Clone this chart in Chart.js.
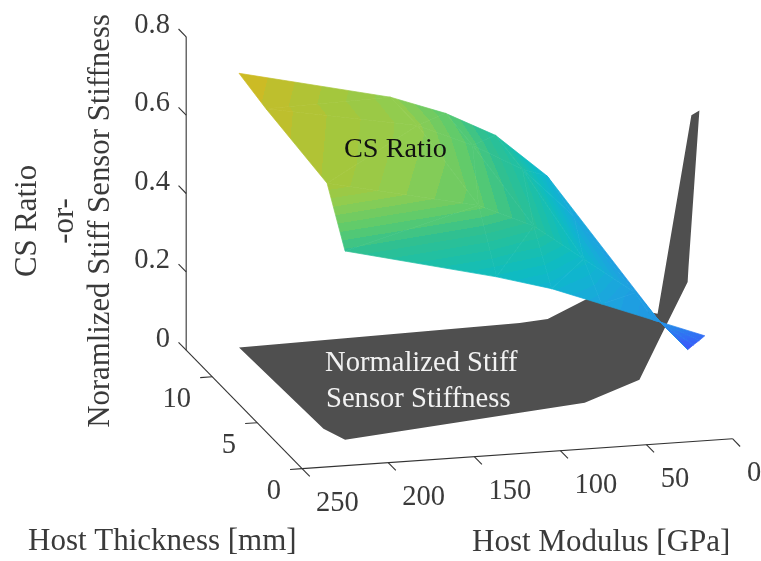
<!DOCTYPE html>
<html>
<head>
<meta charset="utf-8">
<title>CS Ratio surface</title>
<script src="https://cdn.jsdelivr.net/npm/chart.js@4/dist/chart.umd.min.js"></script>
<style>
    html, body { margin: 0; padding: 0; background: #fff; }
    #wrap { width: 761px; height: 561px; }
</style>
</head>
<body>
<div id="wrap"><canvas id="chart" width="761" height="561"></canvas></div>
<script>
// axis ticks
const zTicks = [0, 0.2, 0.4, 0.6, 0.8];
const thicknessTicks = [0, 5, 10];
const modulusTicks = [0, 50, 100, 150, 200, 250];
const modulusEnd = 250;
const thicknessEnd = 12.9;
const zEnd = 0.8;

// CS Ratio surface, rows run back to front, columns high to low modulus
const csModulus = [
    [224, 136, 104, 75, 45, 38, 2],
    [224, 136, 104, 75, 45, 38, 2],
    [224, 136, 104, 75, 45, 38, 2],
    [224, 136, 104, 75, 45, 38, 2]
];
const csThickness = [
    [12, 12, 12, 12, 12, 0.8, 4.6],
    [9, 9, 9, 9, 9, 0.8, 3.97],
    [2.2, 2.2, 2.2, 2.2, 2.2, 0.8, 3.33],
    [0.2, 0.2, 0.2, 0.2, 0.2, 0.8, 2.7]
];
const csRatio = [
    [0.72, 0.632, 0.581, 0.516, 0.403, 0.291, 0.12],
    [0.70, 0.63, 0.57, 0.50, 0.37, 0.291, 0.147],
    [0.669, 0.585, 0.523, 0.43, 0.335, 0.291, 0.173],
    [0.543, 0.45, 0.41, 0.362, 0.312, 0.291, 0.2]
];

// Normalized stiff sensor stiffness, outline of the dark sheet
const stiffModulus = [224, 61, 44.7, 22, 19.5, 3, 2, 24.5, 25, 40, 53, 84.8, 122.5, 224, 224];
const stiffThickness = [12, 12, 12, 12, 4.6, 4, 3.3, 0.2, 0.2, 0.2, 0.2, 0.2, 0.2, 0.2, 2.6];
const stiffValue = [0.02, 0.033, 0.038, 0.082, 0.217, 0.733, 0.761, 0.441, 0.403, 0.275, 0.162, 0.113, 0.099, 0.061, 0.033];

// colour scale, read against the picture
const mapStops = [0, 0.1, 0.2, 0.29, 0.36, 0.41, 0.45, 0.5, 0.54, 0.58, 0.63, 0.67, 0.72, 0.8, 1];
const mapColors = [[62,38,168],[64,80,250],[50,110,245],[35,145,230],[28,165,222],[16,180,208],[15,188,192],[30,192,165],[48,192,145],[92,203,110],[144,204,80],[168,198,58],[212,184,32],[251,190,62],[249,251,21]];
const mapLevels = 64;

const FONT = '"Liberation Serif", "Times New Roman", serif';
const TEXT = '#3a3a3a';

// 3D view of the axes box onto the page
function project(E, t, z) {
    return {
        x: 733 - 1.724 * E - 9.0 * t,
        y: 439 + 0.12 * E - 9.2 * t - 392.5 * z
    };
}

function mapColor(v) {
    for (let i = 1; i < mapStops.length; i++) {
        if (v <= mapStops[i]) {
            const f = (v - mapStops[i - 1]) / (mapStops[i] - mapStops[i - 1]);
            const a = mapColors[i - 1], b = mapColors[i];
            return `rgb(${a.map((c, k) => Math.round(c + (b[k] - c) * f)).join(',')})`;
        }
    }
    return 'rgb(249,251,21)';
}

function lineSet(from, to) {
    return {
        data: [project(from[0], from[1], from[2]), project(to[0], to[1], to[2])],
        showLine: true, pointRadius: 0, borderColor: '#333', borderWidth: 1.1, order: 3
    };
}

const datasets = [];

// axes box lines
datasets.push(lineSet([modulusEnd, thicknessEnd, 0], [modulusEnd, thicknessEnd, zEnd]));
datasets.push(lineSet([modulusEnd, 0, 0], [modulusEnd, thicknessEnd, 0]));
datasets.push(lineSet([0, 0, 0], [modulusEnd, 0, 0]));
zTicks.forEach(z => datasets.push(lineSet([modulusEnd, thicknessEnd, z], [modulusEnd, thicknessEnd + 0.85, z])));
thicknessTicks.forEach(t => datasets.push(lineSet([modulusEnd, t, 0], [modulusEnd + 7, t, 0])));
modulusTicks.forEach(E => datasets.push(lineSet([E, 0, 0], [E, -0.85, 0])));

// dark sheet
const stiffPoints = stiffModulus.map((E, i) => project(E, stiffThickness[i], stiffValue[i]));
datasets.push({
    data: stiffPoints.concat([stiffPoints[0]]),
    showLine: true, pointRadius: 0, borderWidth: 0, borderColor: '#4f4f4f',
    backgroundColor: '#4f4f4f', fill: 'shape', order: 2
});

// coloured sheet, each grid quad split into two triangles
const triangles = [];
function node(r, c) {
    return { p: project(csModulus[r][c], csThickness[r][c], csRatio[r][c]), v: csRatio[r][c] };
}
for (let r = 0; r < csRatio.length - 1; r++) {
    for (let c = 0; c < csRatio[r].length - 1; c++) {
        triangles.push([node(r, c), node(r + 1, c), node(r, c + 1)]);
        triangles.push([node(r + 1, c), node(r + 1, c + 1), node(r, c + 1)]);
    }
}
const firstTriangle = datasets.length;
triangles.forEach(tri => {
    const pts = tri.map(n => n.p);
    datasets.push({
        data: pts.concat([pts[0]]),
        showLine: true, pointRadius: 0, borderWidth: 0.7, fill: 'shape', order: 1,
        borderColor: mapColor(tri[0].v), backgroundColor: mapColor(tri[0].v)
    });
});

// one linear gradient per triangle, hard stops give the colour bands
function triangleGradient(ctx, chart, tri) {
    const sx = chart.scales.x, sy = chart.scales.y;
    const P = tri.map(n => ({ x: sx.getPixelForValue(n.p.x), y: sy.getPixelForValue(n.p.y), v: n.v }));
    const dv1 = P[1].v - P[0].v, dv2 = P[2].v - P[0].v;
    const dx1 = P[1].x - P[0].x, dx2 = P[2].x - P[0].x;
    const dy1 = P[1].y - P[0].y, dy2 = P[2].y - P[0].y;
    const det = dx1 * dy2 - dx2 * dy1;
    if (Math.abs(det) < 1e-6) return null;
    const a = (dv1 * dy2 - dv2 * dy1) / det;
    const b = (dx1 * dv2 - dx2 * dv1) / det;
    const len2 = a * a + b * b;
    const vs = P.map(p => p.v);
    const vMin = Math.min(...vs), vMax = Math.max(...vs);
    if (len2 < 1e-12 || vMax - vMin < 1e-6) return null;
    const low = P[vs.indexOf(vMin)];
    const span = (vMax - vMin) / len2;
    const grad = ctx.createLinearGradient(low.x, low.y, low.x + a * span, low.y + b * span);
    const step = 1 / mapLevels;
    let k = Math.floor(vMin / step);
    while (k * step < vMax) {
        const from = Math.max(0, (k * step - vMin) / (vMax - vMin));
        const to = Math.min(1, ((k + 1) * step - vMin) / (vMax - vMin));
        const col = mapColor((k + 0.5) * step);
        grad.addColorStop(from, col);
        grad.addColorStop(to, col);
        k++;
    }
    return grad;
}

function put(ctx, text, x, y, size, color, align) {
    ctx.font = `${size}px ${FONT}`;
    ctx.fillStyle = color;
    ctx.textAlign = align || 'left';
    ctx.textBaseline = 'middle';
    ctx.fillText(text, x, y);
}

const labelsPlugin = {
    id: 'labels3d',
    afterDraw(chart) {
        const ctx = chart.ctx;
        ctx.save();
        zTicks.forEach(z => {
            const p = project(modulusEnd, thicknessEnd, z);
            put(ctx, String(z), p.x - 16, p.y - 11, 28.5, TEXT, 'right');
        });
        thicknessTicks.forEach(t => {
            const p = project(modulusEnd, t, 0);
            put(ctx, String(t), p.x - 21, p.y + 23, 28.5, TEXT, 'right');
        });
        modulusTicks.forEach(E => {
            const p = project(E, 0, 0);
            put(ctx, String(E), p.x + 14, p.y + 35, 28.5, TEXT);
        });
        put(ctx, 'Host Thickness [mm]', 28, 542, 31, TEXT);
        put(ctx, 'Host Modulus [GPa]', 472, 543, 31, TEXT);
        put(ctx, 'CS Ratio', 344, 150, 28.3, '#111');
        put(ctx, 'Normalized Stiff', 325, 363, 28.6, '#f2f2f2');
        put(ctx, 'Sensor Stiffness', 326, 399, 28.6, '#f2f2f2');

        // vertical title
        [['CS Ratio', 28], ['-or-', 65], ['Noramlized Stiff Sensor Stiffness', 101]].forEach(row => {
            ctx.save();
            ctx.translate(row[1], 221);
            ctx.rotate(-Math.PI / 2);
            put(ctx, row[0], 0, 0, 30.8, TEXT, 'center');
            ctx.restore();
        });
        ctx.restore();
    }
};

const chart = new Chart(document.getElementById('chart'), {
    type: 'scatter',
    data: { datasets },
    options: {
        responsive: false,
        animation: false,
        layout: { padding: 0 },
        plugins: { legend: { display: false }, tooltip: { enabled: false } },
        scales: {
            x: { type: 'linear', min: 0, max: 761, display: false },
            y: { type: 'linear', min: 0, max: 561, reverse: true, display: false }
        }
    },
    plugins: [labelsPlugin]
});

// gradients need the finished scales
triangles.forEach((tri, i) => {
    const grad = triangleGradient(chart.ctx, chart, tri);
    if (grad) {
        datasets[firstTriangle + i].backgroundColor = grad;
        datasets[firstTriangle + i].borderColor = grad;
    }
});
chart.update('none');
</script>
</body>
</html>
